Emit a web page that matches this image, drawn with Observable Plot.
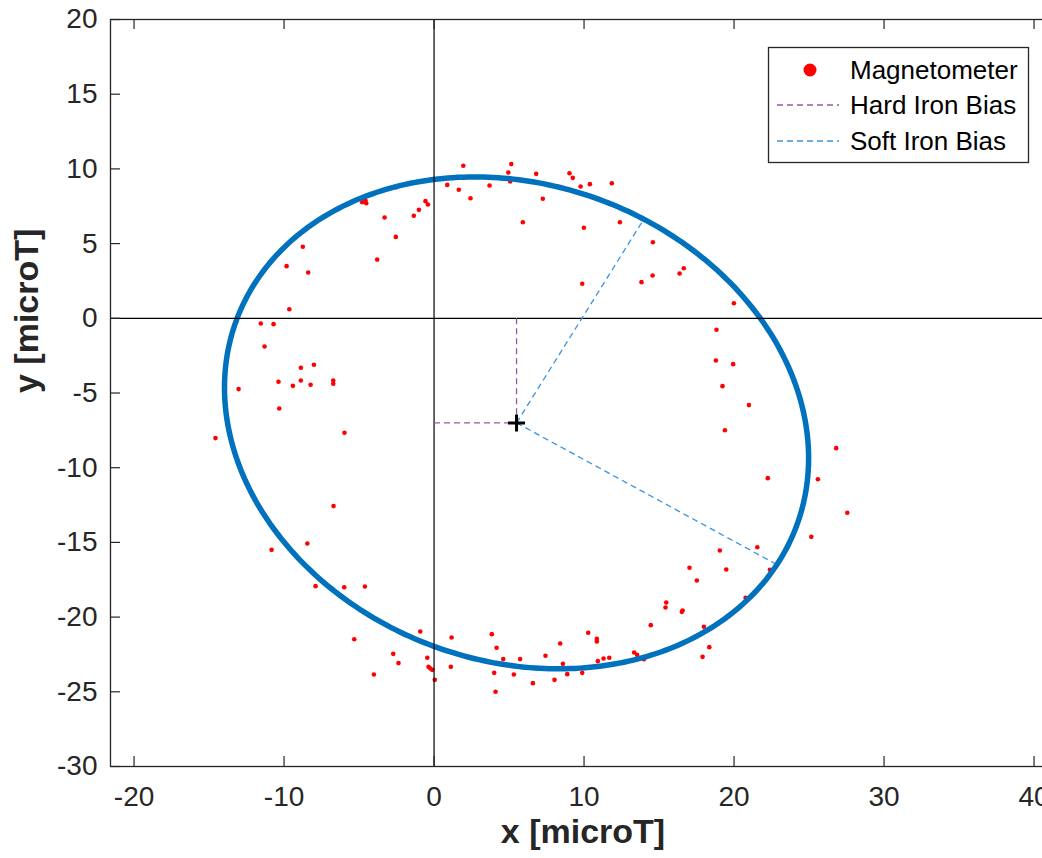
<!DOCTYPE html>
<html>
<head>
<meta charset="utf-8">
<script src="https://cdn.jsdelivr.net/npm/d3@7"></script>
<script src="https://cdn.jsdelivr.net/npm/@observablehq/plot@0.6"></script>
<style>
  html, body { margin: 0; padding: 0; background: #fff; overflow: hidden; }
  #wrap { position: relative; width: 1042px; height: 858px; overflow: hidden; }
  #chart { width: 1056px; }
  #chart svg { max-width: none !important; }
  #legend { position: absolute; left: 767px; top: 46px; }
</style>
</head>
<body>
<div id="wrap"><div id="chart"></div><div id="legend"></div></div>
<script>
// ---------- data ----------
const xTicks = [-20, -10, 0, 10, 20, 30, 40];
const yTicks = [-30, -25, -20, -15, -10, -5, 0, 5, 10, 15, 20];

// Magnetometer readings [microT]
const magX = [
  1.95, 0.88, 1.65, 2.43, -2.5, -4.79, -4.57, -4.52, -3.3, -1.35, -1.01, -0.57, -0.41,
  -2.55, -3.79, -8.75, -9.83, -8.39, -9.65, -11.55, -10.7, -11.3, -8.01, -8.88,
  -10.37, -8.88, -9.41, -8.23, -6.72, -6.72, -13.03, -10.32,
  5.15, 4.95, 5.08, 3.7, 6.81, 7.25, 5.92, 9.03, 9.25, 9.77, 10.39, 11.85, 9.99, 12.39,
  9.88, 14.59, 13.83, 14.57, 16.37, 16.65, 19.99, 18.83,
  18.79, 19.94, 19.23, 20.99, 19.39, 26.81, 22.25, 25.59, 27.55, 25.15, 21.55, 19.05,
  17.03, 19.48, 17.52, 22.39, 20.77, 16.57, 16.52, 17.99, 18.35, 17.9,
  15.48, 15.43, 14.45, 13.34, 13.54, 13.99, 10.28, 10.85, 10.85, 10.92, 11.3, 11.68,
  9.88, 8.41, 8.59, 8.88, 8.03, 7.43, 6.59, 5.74, 5.32, 4.61, 4.17, 3.85, 4.01, 4.1,
  -14.57, -5.97, -6.7, -10.83, -8.45, -7.9, -5.99, -4.61, -5.32, -0.92, 1.17, -2.72,
  -2.37, -0.45, -0.37, -0.25, -0.12, 0.05, 1.12, -4.01
];
const magY = [
  10.21, 8.93, 8.60, 8.04, 8.78, 7.77, 7.88, 7.70, 6.75, 6.86, 7.26, 7.84, 7.62,
  5.45, 3.93, 4.79, 3.49, 3.07, 0.61, -0.35, -0.39, -1.89, -3.11, -3.31,
  -4.25, -4.16, -4.52, -4.45, -4.16, -4.38, -4.74, -6.04,
  10.32, 9.76, 9.16, 8.89, 9.67, 8.0, 6.43, 9.71, 9.40, 8.82, 8.98, 9.04, 6.06, 6.43,
  2.31, 5.09, 2.42, 2.86, 3.0, 3.35, 1.01, -0.77,
  -2.82, -3.07, -4.54, -5.81, -7.49, -8.69, -10.7, -10.77, -13.02, -14.63, -15.32, -15.54,
  -16.7, -16.81, -17.55, -16.83, -18.71, -19.56, -19.65, -20.65, -22.01, -22.66,
  -19.02, -19.36, -20.54, -22.37, -22.53, -22.82, -21.05, -21.45, -21.63, -22.95, -22.77, -22.72,
  -23.73, -21.77, -23.13, -23.82, -24.2, -22.59, -24.42, -22.81, -23.84, -22.81, -22.05, -21.14, -23.73, -25.0,
  -8.02, -7.66, -12.57, -15.5, -15.07, -17.93, -18.0, -17.95, -21.48, -20.96, -21.37, -22.46,
  -23.08, -22.72, -23.33, -23.44, -23.53, -24.2, -23.33, -23.84
];

// Hard iron bias (ellipse centre) [x, y]
const hardIronBias = [5.5, -7];
// Soft iron bias segment end points
const softIronEndX = [14.0, 22.7];
const softIronEndY = [6.66, -16.4];
// Fitted ellipse: semi-axes and rotation (degrees)
const ellipseSemiAxes = [19.9, 15.94];
const ellipseRotationDeg = -20.2;

// ---------- derived tables ----------
const mag = magX.map((x, i) => ({x, y: magY[i]}));
const [cx, cy] = hardIronBias;
const phi = ellipseRotationDeg * Math.PI / 180;
const ellipse = d3.range(0, 361).map(deg => {
  const t = deg * Math.PI / 180;
  const u = ellipseSemiAxes[0] * Math.cos(t), v = ellipseSemiAxes[1] * Math.sin(t);
  return {x: cx + u * Math.cos(phi) - v * Math.sin(phi), y: cy + u * Math.sin(phi) + v * Math.cos(phi)};
});
const hardLines = [
  {x1: 0, y1: cy, x2: cx, y2: cy},
  {x1: cx, y1: 0, x2: cx, y2: cy}
];
const softLines = softIronEndX.map((x, i) => ({x1: cx, y1: cy, x2: x, y2: softIronEndY[i]}));

const colors = {mag: "#ff0000", ellipse: "#0072bd", hard: "#8e5aa8", soft: "#3d94dc", axis: "#262626"};
const plusSymbol = {
  draw(context, size) {
    const r = Math.sqrt(size / Math.PI);
    context.moveTo(-r, 0); context.lineTo(r, 0);
    context.moveTo(0, -r); context.lineTo(0, r);
  }
};

const W = 1056, H = 858, mL = 110, mR = 1, mT = 19, mB = 92;
const frameW = W - mL - mR, frameH = H - mT - mB;
const tickLen = 10;

const chart = Plot.plot({
  width: W, height: H,
  marginLeft: mL, marginRight: mR, marginTop: mT, marginBottom: mB,
  style: {fontFamily: "'Liberation Sans', Arial, Helvetica, sans-serif", fontSize: "28px", color: colors.axis, background: "#fff", maxWidth: "none"},
  x: {domain: [-21.57, 41.43]},
  y: {domain: [-30, 20]},
  marks: [
    Plot.dot(mag, {x: "x", y: "y", r: 2.3, fill: colors.mag, stroke: "none"}),
    Plot.line(ellipse, {x: "x", y: "y", stroke: colors.ellipse, strokeWidth: 5.5, curve: "linear"}),
    Plot.ruleX([0], {stroke: "#000", strokeWidth: 1.2}),
    Plot.ruleY([0], {stroke: "#000", strokeWidth: 1.2}),
    Plot.link(hardLines, {x1: "x1", y1: "y1", x2: "x2", y2: "y2", stroke: colors.hard, strokeWidth: 1.3, strokeDasharray: "6,4"}),
    Plot.link(softLines, {x1: "x1", y1: "y1", x2: "x2", y2: "y2", stroke: colors.soft, strokeWidth: 1.3, strokeDasharray: "6,4"}),
    Plot.dot([hardIronBias], {x: d => d[0], y: d => d[1], symbol: plusSymbol, r: 8.5, stroke: "#000", strokeWidth: 3, fill: "none"}),
    // inward ticks on all sides
    Plot.tickX(xTicks, {x: d => d, insetTop: frameH - tickLen, stroke: colors.axis, strokeWidth: 1.2}),
    Plot.tickX(xTicks, {x: d => d, insetBottom: frameH - tickLen, stroke: colors.axis, strokeWidth: 1.2}),
    Plot.tickY(yTicks, {y: d => d, insetRight: frameW - tickLen, stroke: colors.axis, strokeWidth: 1.2}),
    Plot.tickY(yTicks, {y: d => d, insetLeft: frameW - tickLen, stroke: colors.axis, strokeWidth: 1.2}),
    Plot.frame({stroke: colors.axis, strokeWidth: 1.3}),
    Plot.axisX(xTicks, {anchor: "bottom", tickSize: 0, tickPadding: 20, tickFormat: d => String(d), label: null, fontSize: 28, fill: colors.axis}),
    Plot.axisY(yTicks, {anchor: "left", tickSize: 0, tickPadding: 13, tickFormat: d => String(d), label: null, fontSize: 28, fill: colors.axis}),
    Plot.text(["x [microT]"], {frameAnchor: "bottom", dy: 76, text: d => d, fontSize: 34, fontWeight: "bold", fill: colors.axis}),
    Plot.text(["y [microT]"], {frameAnchor: "left", dx: -83, rotate: -90, text: d => d, fontSize: 34, fontWeight: "bold", fill: colors.axis})
  ]
});
document.getElementById("chart").appendChild(chart);

// ---------- legend ----------
const legendItems = ["Magnetometer", "Hard Iron Bias", "Soft Iron Bias"];
const lg = d3.select("#legend").append("svg").attr("width", 264).attr("height", 120)
  .style("font-family", "'Liberation Sans', Arial, Helvetica, sans-serif");
lg.append("rect").attr("x", 1.5).attr("y", 1.5).attr("width", 260).attr("height", 115)
  .attr("fill", "#fff").attr("stroke", colors.axis).attr("stroke-width", 1.3);
const rowsY = [24, 59, 95];
legendItems.forEach((name, i) => {
  const yy = rowsY[i];
  if (i === 0) {
    lg.append("circle").attr("cx", 43).attr("cy", yy).attr("r", 6.5).attr("fill", colors.mag);
  } else {
    lg.append("line").attr("x1", 10).attr("x2", 72).attr("y1", yy).attr("y2", yy)
      .attr("stroke", i === 1 ? colors.hard : colors.soft).attr("stroke-width", 1.3).attr("stroke-dasharray", "6,4");
  }
  lg.append("text").attr("x", 83).attr("y", yy).attr("dy", "0.35em").attr("font-size", 26)
    .attr("fill", "#000").text(name);
});
</script>
</body>
</html>
